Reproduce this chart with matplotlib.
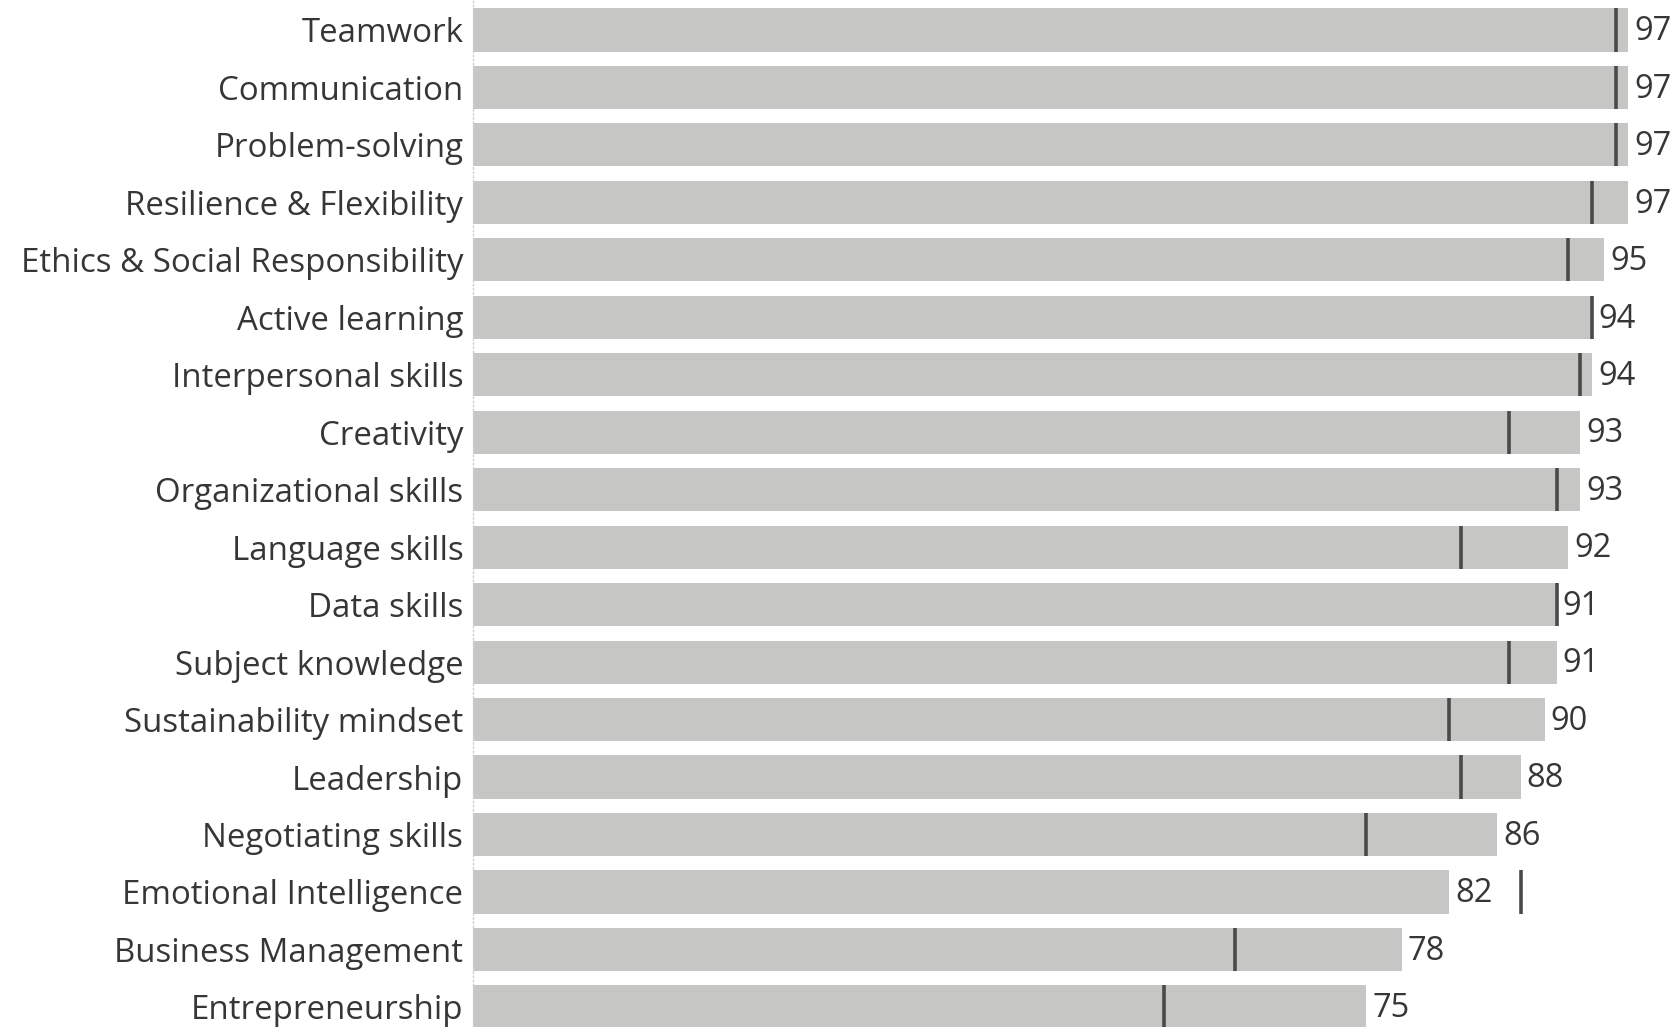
import matplotlib.pyplot as plt

# Skills, share of respondents (bar) and comparison marker (tick)
skills = ['Teamwork', 'Communication', 'Problem-solving', 'Resilience & Flexibility',
          'Ethics & Social Responsibility', 'Active learning', 'Interpersonal skills',
          'Creativity', 'Organizational skills', 'Language skills', 'Data skills',
          'Subject knowledge', 'Sustainability mindset', 'Leadership',
          'Negotiating skills', 'Emotional Intelligence', 'Business Management',
          'Entrepreneurship']
values = [97, 97, 97, 97, 95, 94, 94, 93, 93, 92, 91, 91, 90, 88, 86, 82, 78, 75]
reference = [96, 96, 96, 94, 92, 94, 93, 87, 91, 83, 91, 87, 82, 83, 75, 88, 64, 58]

plt.rcParams['font.family'] = ['Open Sans', 'DejaVu Sans']
text_color = '#363636'

fig = plt.figure(figsize=(16.81, 10.27), dpi=100)
ax = fig.add_axes([473 / 1681, 0, 1208 / 1681, 1])

y = range(len(skills))
ax.barh(y, values, height=0.75, color='#c6c6c5', edgecolor='none')
ax.vlines(reference, [i - 0.375 for i in y], [i + 0.375 for i in y],
          color='#4a4a4a', lw=2.6)

for i, v in enumerate(values):
    ax.text(v + 0.5, i + 0.03, str(v), va='center', ha='left', fontsize=23.5,
            color=text_color)

ax.set_xlim(0, 101.45)
ax.set_ylim(17.35, -0.522)
ax.set_yticks(list(y))
ax.set_yticklabels(skills, fontsize=23.8, color=text_color)
ax.tick_params(axis='y', length=0, pad=7)
ax.set_xticks([])

for s in ['top', 'right', 'bottom']:
    ax.spines[s].set_visible(False)
ax.spines['left'].set_color('#d0d0d0')
ax.spines['left'].set_linestyle((0, (1, 2)))
ax.spines['left'].set_linewidth(1)

fig.savefig('out.png', dpi=100)
